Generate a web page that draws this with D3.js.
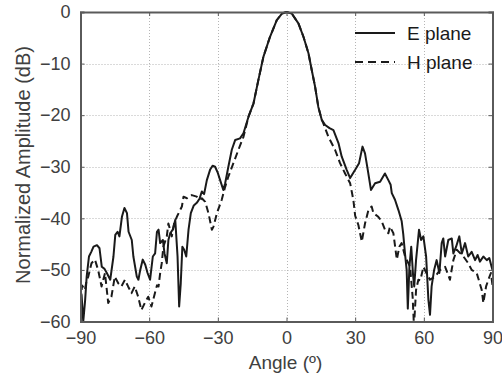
<!DOCTYPE html>
<html><head><meta charset="utf-8">
<script src="https://cdn.jsdelivr.net/npm/d3@7"></script>
<style>body{margin:0;background:#fff}svg{display:block}</style>
</head><body>
<script>
const xTicks = [-90, -60, -30, 0, 30, 60, 90];
const yTicks = [0, -10, -20, -30, -40, -50, -60];
const seriesNames = ["E plane", "H plane"];
const eAngle = [-90,-89.5,-88.8,-88,-87.3,-86.3,-85.3,-84.3,-82.8,-81.7,-80.7,-79.5,-78.5,-77,-75.6,-74.8,-73.8,-73,-71.9,-70.8,-69.7,-69,-67.6,-66.9,-65.4,-64.7,-63.9,-62.8,-61.7,-60.7,-59.6,-58.4,-57.4,-56.6,-55.9,-55.2,-54,-53.3,-52.3,-51.6,-50.8,-49.7,-48.6,-47.6,-46.9,-46.2,-45.5,-44.7,-43.8,-42.8,-41.8,-40.5,-39.2,-38,-37,-36,-34.8,-33.4,-32.3,-31.2,-30,-29,-27.6,-26.8,-25.4,-23.9,-22.4,-20.3,-18.8,-16.6,-14.4,-12.3,-10.1,-7.2,-4.2,-2,0,2.3,5.2,7.4,9.6,11,12.5,13.9,15.4,16.9,18.8,20.5,22.7,24.1,26.3,27.8,30,31.7,33.2,34.3,35.5,36.9,38.7,40.9,43,44.5,45.5,46,47.4,48.9,50.3,51,51.8,52.5,53,53.7,54.5,55.3,55.8,56.6,57.9,58.8,59.8,61,62,62.7,63.4,64.5,65.6,66.8,67.8,68.5,69.3,70.7,72.2,72.9,74.1,75.5,76.6,78,79.4,80.9,82.4,83.5,84.5,86,87.5,88.6,89.6,90];
const eDb = [-54,-55,-60,-56,-51.3,-47.4,-46.5,-45.5,-45.2,-45.8,-49.4,-49.8,-50.6,-51.9,-47.4,-43.2,-42.6,-43.5,-39.7,-38,-39,-42.6,-44.2,-47.4,-51.3,-51.9,-50,-48,-49,-50.6,-51.9,-47.4,-46.8,-42.6,-42.2,-44.8,-44.2,-46.8,-48.7,-44.2,-42.9,-42.2,-40.3,-47.4,-57.1,-52.6,-45.5,-46.1,-47.4,-42.2,-39,-37.5,-37,-36.2,-34.8,-35.3,-32.6,-30.6,-29.8,-30,-31.2,-32.6,-34.5,-33.2,-30,-26.7,-24.8,-24.5,-23.5,-20.3,-17.7,-13.2,-8.7,-4.8,-1.55,-0.3,0,-0.3,-2.2,-4.8,-8,-11.2,-14.5,-18.4,-20.9,-21.9,-22.5,-22.9,-25.4,-28,-30.6,-32.2,-30.6,-29.3,-26.1,-27.4,-30.6,-34.5,-33.2,-32.9,-31.3,-32.6,-33.5,-35.1,-36.4,-38.4,-40.5,-43,-47,-50,-57.5,-49.4,-45.5,-51,-53.2,-48.1,-42.2,-44.2,-43.5,-47.4,-55.8,-58.7,-53.2,-50,-48.1,-50.6,-44.8,-43.9,-47.4,-44.2,-43.9,-46.8,-45.5,-43.5,-46.8,-44.8,-47.4,-46.5,-48.1,-47.1,-48.4,-47.4,-48.1,-47.7,-49.4,-50];
const hAngle = [-90,-89.3,-88.1,-87.3,-86.6,-85.2,-83.7,-82.3,-80.8,-79.3,-77.9,-76.5,-75,-73.5,-72.1,-70.6,-69.2,-67.7,-66.3,-64.8,-63.4,-61.9,-60.4,-59,-57.5,-56.6,-55.9,-55.2,-54.5,-53.8,-52.3,-51.6,-50.1,-49.1,-47.9,-45.7,-45,-43.5,-41.4,-39.2,-37.7,-37,-35.5,-34.1,-32.6,-31.9,-30.4,-28.3,-26.8,-25.4,-23.2,-21,-18.8,-16.6,-14.4,-12.3,-10.1,-7.2,-4.2,-2,0,2.3,5.2,7.4,9.6,11,12.5,13.9,15.4,16.1,18.3,21.2,23.4,25.6,27.8,29.2,30,31.4,32.9,34.3,35.8,37.2,38,40.1,41.6,43,44.5,45.2,46.7,48.2,49.3,50.3,51.8,54,55.1,55.7,56.6,57.6,58.5,59.8,61,62.7,64.9,67.1,69.3,71.4,72.9,74.4,77.3,79.4,80.9,83.1,85.3,86,87.2,88.2,89.3,90];
const hDb = [-56,-53,-53.9,-52,-51.3,-48.7,-48,-50,-53.2,-50.6,-56.4,-55.2,-51.3,-52.6,-53.2,-51.9,-53.2,-54.5,-53.2,-55.2,-57.8,-56.4,-55.2,-57.1,-54.5,-53,-53.2,-50.6,-48.7,-45.5,-43.5,-41,-43.5,-41,-39.7,-37.7,-35.8,-36.1,-35.5,-35.8,-36.4,-36.1,-36.8,-39,-42.2,-41.6,-39,-36.4,-33.9,-31.9,-29.3,-26.7,-24.2,-20.3,-17.7,-13.2,-8.7,-4.8,-1.55,-0.3,0,-0.3,-2.2,-4.8,-8,-11.2,-14.5,-18.4,-20.9,-21.6,-24.2,-26.7,-29.3,-31.3,-33.2,-36.4,-39.5,-41.3,-44.5,-41,-38.4,-37.7,-39,-39.7,-40.6,-42.2,-42.9,-41.6,-42.9,-48,-45.5,-44.8,-47.4,-49.4,-55.2,-61,-53.9,-51.9,-52,-49.4,-50.5,-51.9,-51.3,-50,-49.4,-51.9,-48.1,-46.1,-47.4,-48.7,-50,-50.6,-53.9,-56.4,-53.2,-51.9,-50.6,-53];

const W = 502, H = 376;
const m = {left: 80.5, right: 492.5, top: 12, bottom: 321.5};
const svg = d3.select("body").append("svg").attr("width", W).attr("height", H);
const x = d3.scaleLinear().domain([-90, 90]).range([m.left, m.right]);
const y = d3.scaleLinear().domain([-60, 0]).range([m.bottom, m.top]);
const txt = "#404040", axc = "#5a5a5a";
const font = "Liberation Sans";

// grid
const g = svg.append("g");
g.selectAll(".gx").data(xTicks.slice(1, -1)).join("line")
  .attr("x1", d => Math.round(x(d)) + 0.5).attr("x2", d => Math.round(x(d)) + 0.5)
  .attr("y1", m.top).attr("y2", m.bottom)
  .attr("stroke", "#b5b5b5").attr("stroke-width", 1).attr("stroke-dasharray", "1,2");
g.selectAll(".gy").data(yTicks.slice(1, -1)).join("line")
  .attr("y1", d => Math.round(y(d)) + 0.5).attr("y2", d => Math.round(y(d)) + 0.5)
  .attr("x1", m.left).attr("x2", m.right)
  .attr("stroke", "#b5b5b5").attr("stroke-width", 1).attr("stroke-dasharray", "1,2");

// curves
svg.append("clipPath").attr("id", "clip").append("rect")
  .attr("x", m.left).attr("y", m.top - 2).attr("width", m.right - m.left).attr("height", m.bottom - m.top + 2);
const line = d3.line().x(d => x(d[0])).y(d => y(d[1]));
const eData = eAngle.map((a, i) => [a, eDb[i]]);
const hData = hAngle.map((a, i) => [a, hDb[i]]);
const cg = svg.append("g").attr("clip-path", "url(#clip)");
cg.append("path").datum(hData).attr("d", line).attr("fill", "none")
  .attr("stroke", "#1a1a1a").attr("stroke-width", 2).attr("stroke-dasharray", "7,4").attr("stroke-linejoin", "round");
cg.append("path").datum(eData).attr("d", line).attr("fill", "none")
  .attr("stroke", "#1a1a1a").attr("stroke-width", 2).attr("stroke-linejoin", "round");

// axes
const xAxB = d3.axisBottom(x).tickValues(xTicks).tickSize(-4).tickPadding(10).tickFormat(d3.format("d"));
const xAxT = d3.axisTop(x).tickValues(xTicks).tickSize(-4).tickFormat("");
const yAxL = d3.axisLeft(y).tickValues(yTicks).tickSize(-4).tickPadding(10).tickFormat(d3.format("d"));
const yAxR = d3.axisRight(y).tickValues(yTicks).tickSize(-4).tickFormat("");
function style(sel) {
  sel.attr("font-family", font).attr("font-size", 18);
  sel.selectAll("path.domain").attr("stroke", axc).attr("stroke-width", 2);
  sel.selectAll(".tick line").attr("stroke", axc).attr("stroke-width", 1);
  sel.selectAll(".tick text").attr("fill", txt);
}
svg.append("g").attr("transform", `translate(0,${m.bottom})`).call(xAxB).call(style)
  .selectAll(".tick text").attr("dy", "0.71em");
svg.append("g").attr("transform", `translate(0,${m.top})`).call(xAxT).call(style);
svg.append("g").attr("transform", `translate(${m.left},0)`).call(yAxL).call(style);
svg.append("g").attr("transform", `translate(${m.right},0)`).call(yAxR).call(style);

// labels
svg.append("text").attr("x", 285.5).attr("y", 369)
  .attr("text-anchor", "middle").attr("fill", txt).attr("font-family", font).attr("font-size", 19)
  .text("Angle (º)");
svg.append("text").attr("transform", `translate(30,165) rotate(-90)`)
  .attr("text-anchor", "middle").attr("fill", txt).attr("font-family", font).attr("font-size", 20)
  .text("Normalized Amplitude (dB)");

// legend
const lg = svg.append("g");
const legY = [33, 62];
seriesNames.forEach((n, i) => {
  lg.append("line").attr("x1", 355).attr("x2", 395).attr("y1", legY[i]).attr("y2", legY[i])
    .attr("stroke", "#1a1a1a").attr("stroke-width", 2).attr("stroke-dasharray", i ? "8,5" : null);
  lg.append("text").attr("x", 407).attr("y", legY[i] + 7).attr("fill", "#1a1a1a")
    .attr("font-family", font).attr("font-size", 19).text(n);
});
</script>
</body></html>
